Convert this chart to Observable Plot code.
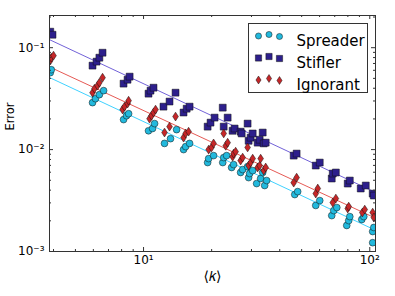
<!DOCTYPE html>
<html><head><meta charset="utf-8">
<script src="https://cdn.jsdelivr.net/npm/d3@7"></script>
<script src="https://cdn.jsdelivr.net/npm/@observablehq/plot@0.6"></script>
<style>body{margin:0;background:#fff}</style>
</head><body><div id="chart"></div>
<script>
const seriesNames = ["Spreader", "Stifler", "Ignorant"];

const spreaderK = [3.87,3.91, 5.95,6.13,6.38,6.66, 8.16,8.41,8.59, 10.52,10.96,11.19, 12.38,13.16,14.0, 15.03,15.35,15.98, 19.2,19.4,20.4, 22.39,22.61,23.3, 24.51,25.01, 26.86,27.42, 28.84,29.14,29.44,30.37, 31.62,32.93,33.63,34.31,35.0, 46.6,48.0, 57.7,60.1, 67.9,69.3,71.5, 79.1,80.7,81.6, 92.2,94.1, 103.0,103.0,104.2];
const spreaderErr = [0.0569,0.0608, 0.0289,0.0316,0.0346,0.0379, 0.0197,0.0215,0.0225, 0.0153,0.0161,0.0180, 0.0115,0.0128,0.0157, 0.0100,0.0107,0.0115, 0.00746,0.00816,0.00873, 0.00746,0.00835,0.00873, 0.00667,0.00713, 0.00596,0.00637, 0.00681,0.00531,0.00582,0.00622, 0.00464,0.00520,0.00596,0.00444,0.00497, 0.00362,0.00387, 0.00283,0.00316, 0.00225,0.00252,0.00270, 0.00180,0.00201,0.00220, 0.00206,0.00220, 0.00157,0.00122,0.00172];

const stiflerK = [3.87,3.96, 5.95,6.20,6.38,6.59, 8.16,8.50,8.68, 10.52,10.74,11.07, 12.25,13.03,13.85, 15.03,15.51,15.98, 19.2,19.78,20.61, 22.39,22.61,23.54, 24.76,25.27, 26.86,27.15, 28.84,29.14,29.74,30.37, 31.94,32.6,33.63,33.98,34.67, 46.1,47.5, 57.7,60.1, 67.9,68.6,70.8, 79.9,81.6, 91.2,96.0, 103.0,104.2];
const stiflerErr = [0.1436,0.134, 0.0667,0.0730,0.0798,0.0893, 0.0444,0.0485,0.0520, 0.0354,0.0379,0.0405, 0.0264,0.0296,0.0362, 0.0231,0.0252,0.0264, 0.0168,0.0184,0.0206, 0.0258,0.0168,0.0206, 0.0153,0.0161, 0.0150,0.0144, 0.0180,0.0122,0.0131,0.0144, 0.0117,0.0125,0.0147,0.0115,0.0117, 0.00873,0.00914, 0.00697,0.00746, 0.00520,0.00582,0.00596, 0.00464,0.00497, 0.00415,0.00444, 0.00370,0.00354];

const ignorantK = [3.87,3.91,4.0, 5.95,6.07,6.26,6.38,6.59, 8.08,8.24,8.50,8.59, 10.63,10.85,11.07,11.30, 12.38,13.03,13.85, 15.03,15.35,15.82, 19.4,19.98,20.4, 22.61,23.08,23.54, 24.76,25.01,25.53, 26.86,27.42, 28.84,29.14,29.74,30.37, 31.94,32.6,32.93,33.98,34.67, 46.1,47.5, 57.7,58.9, 68.6,70.8, 79.9,80.7, 92.7,95.0, 103.0,104.2];
const ignorantErr = [0.0746,0.0798,0.0836, 0.0362,0.0396,0.0424,0.0454,0.0508, 0.0247,0.0264,0.0283,0.0302, 0.0201,0.0215,0.0231,0.0247, 0.0147,0.0168,0.0211, 0.0131,0.0144,0.0150, 0.0100,0.0105,0.0115, 0.0144,0.0109,0.0117, 0.00853,0.00914,0.00955, 0.00780,0.00835, 0.0105,0.00697,0.00746,0.00816, 0.00667,0.00697,0.00816,0.00622,0.00667, 0.00474,0.00531, 0.00370,0.00415, 0.00302,0.00331, 0.00264,0.00276, 0.00241,0.00258, 0.00241,0.00215];

// power-law fits: Error = prefactor * k^exponent
const fitPrefactor = [0.2065, 0.486, 0.259];
const fitExponent = [-1.04, -1.04, -1.03];

const xDomain = [3.84, 106];
const yDomain = [0.001, 0.207];
const xMajorTicks = [10, 100];
const xTickLabels = ["10\u00b9", "10\u00b2"];
const xMinorTicks = [4,5,6,7,8,9,20,30,40,50,60,70,80,90];
const yMajorTicks = [0.001, 0.01, 0.1];
const yTickLabels = ["10\u207b\u00b3", "10\u207b\u00b2", "10\u207b\u00b9"];
const yMinorTicks = [0.002,0.003,0.004,0.005,0.006,0.007,0.008,0.009,0.02,0.03,0.04,0.05,0.06,0.07,0.08,0.09,0.2];

const fills = ["#22b9dd", "#2d1f8c", "#c62628"];
const lineColors = ["#40d2ff", "#7262d8", "#e65a55"];

const thinDiamond = {
  draw(context, size) {
    const s = Math.sqrt(size);
    const h = 0.62 * s, w = 0.4 * s;
    context.moveTo(0, -h); context.lineTo(w, 0); context.lineTo(0, h); context.lineTo(-w, 0); context.closePath();
  }
};
const symbols = ["circle", "square", thinDiamond];
const radii = [3.4, 3.9, 4.0];

const kArrays = [spreaderK, stiflerK, ignorantK];
const errArrays = [spreaderErr, stiflerErr, ignorantErr];

const points = seriesNames.map((s, i) => kArrays[i].map((k, j) => ({series: s, k, err: errArrays[i][j]})));
const fitLines = seriesNames.map((s, i) => xDomain.map(k => ({series: s, k, err: fitPrefactor[i] * Math.pow(k, fitExponent[i])})));

const W = 395, H = 296, mL = 49, mR = 20, mT = 15, mB = 45;
const fw = W - mL - mR, fh = H - mT - mB;
const axisColor = "#333";

const marks = [];
fitLines.forEach((d, i) => marks.push(Plot.line(d, {x: "k", y: "err", stroke: lineColors[i], strokeWidth: 1, clip: true})));
points.forEach((d, i) => marks.push(Plot.dot(d, {x: "k", y: "err", symbol: symbols[i], r: radii[i], fill: fills[i], stroke: "#111", strokeWidth: 0.5, clip: true})));
marks.push(Plot.frame({stroke: axisColor, strokeWidth: 1}));
marks.push(Plot.tickX(xMajorTicks, {x: d => d, insetTop: fh - 4, stroke: axisColor}));
marks.push(Plot.tickX(xMinorTicks, {x: d => d, insetTop: fh - 2, stroke: axisColor}));
marks.push(Plot.tickX(xMajorTicks, {x: d => d, insetBottom: fh - 4, stroke: axisColor}));
marks.push(Plot.tickX(xMinorTicks, {x: d => d, insetBottom: fh - 2, stroke: axisColor}));
marks.push(Plot.tickY(yMajorTicks, {y: d => d, insetRight: fw - 4, stroke: axisColor}));
marks.push(Plot.tickY(yMinorTicks, {y: d => d, insetRight: fw - 2, stroke: axisColor}));
marks.push(Plot.tickY(yMajorTicks, {y: d => d, insetLeft: fw - 4, stroke: axisColor}));
marks.push(Plot.tickY(yMinorTicks, {y: d => d, insetLeft: fw - 2, stroke: axisColor}));
marks.push(Plot.axisX({ticks: xMajorTicks, tickSize: 0, tickPadding: 4, tickFormat: d => xTickLabels[xMajorTicks.indexOf(d)], label: null, fontSize: 12, fill: "#000"}));
marks.push(Plot.axisY({ticks: yMajorTicks, tickSize: 0, tickPadding: 5, tickFormat: d => yTickLabels[yMajorTicks.indexOf(d)], label: null, fontSize: 12, fill: "#000"}));
marks.push(Plot.text(["\u27e8\ud835\udc58\u27e9"], {text: d => d, frameAnchor: "bottom", dy: 29.5, fontSize: 14, fill: "#000"}));
marks.push(Plot.text(["Error"], {text: d => d, frameAnchor: "left", dx: -39, dy: -3, rotate: -90, fontSize: 11.5, fill: "#000"}));
marks.push(Plot.frame({insetLeft: 199, insetRight: 8, insetTop: 8, insetBottom: 159, fill: "white", stroke: axisColor, strokeWidth: 1}));
const legendDx = [-117, -106.5, -96];
const legendJitter = [0.5, -1, 1];
const legendRowDy = [20, 42, 64];
seriesNames.forEach((s, i) => {
  legendDx.forEach((dx, j) => {
    marks.push(Plot.dot([s], {frameAnchor: "top-right", dx, dy: legendRowDy[i] + legendJitter[j], symbol: symbols[i], r: radii[i] * 0.9, fill: fills[i], stroke: "#111", strokeWidth: 0.5}));
  });
  marks.push(Plot.text([s], {text: d => d, frameAnchor: "top-right", dx: -79, dy: legendRowDy[i], textAnchor: "start", fontSize: 15, fill: "#000"}));
});

const chart = Plot.plot({
  width: W, height: H,
  marginLeft: mL, marginRight: mR, marginTop: mT, marginBottom: mB,
  style: {fontFamily: "DejaVu Sans", background: "#fff"},
  x: {type: "log", domain: xDomain, axis: null},
  y: {type: "log", domain: yDomain, axis: null},
  marks
});
document.getElementById("chart").appendChild(chart);
</script>
</body></html>
